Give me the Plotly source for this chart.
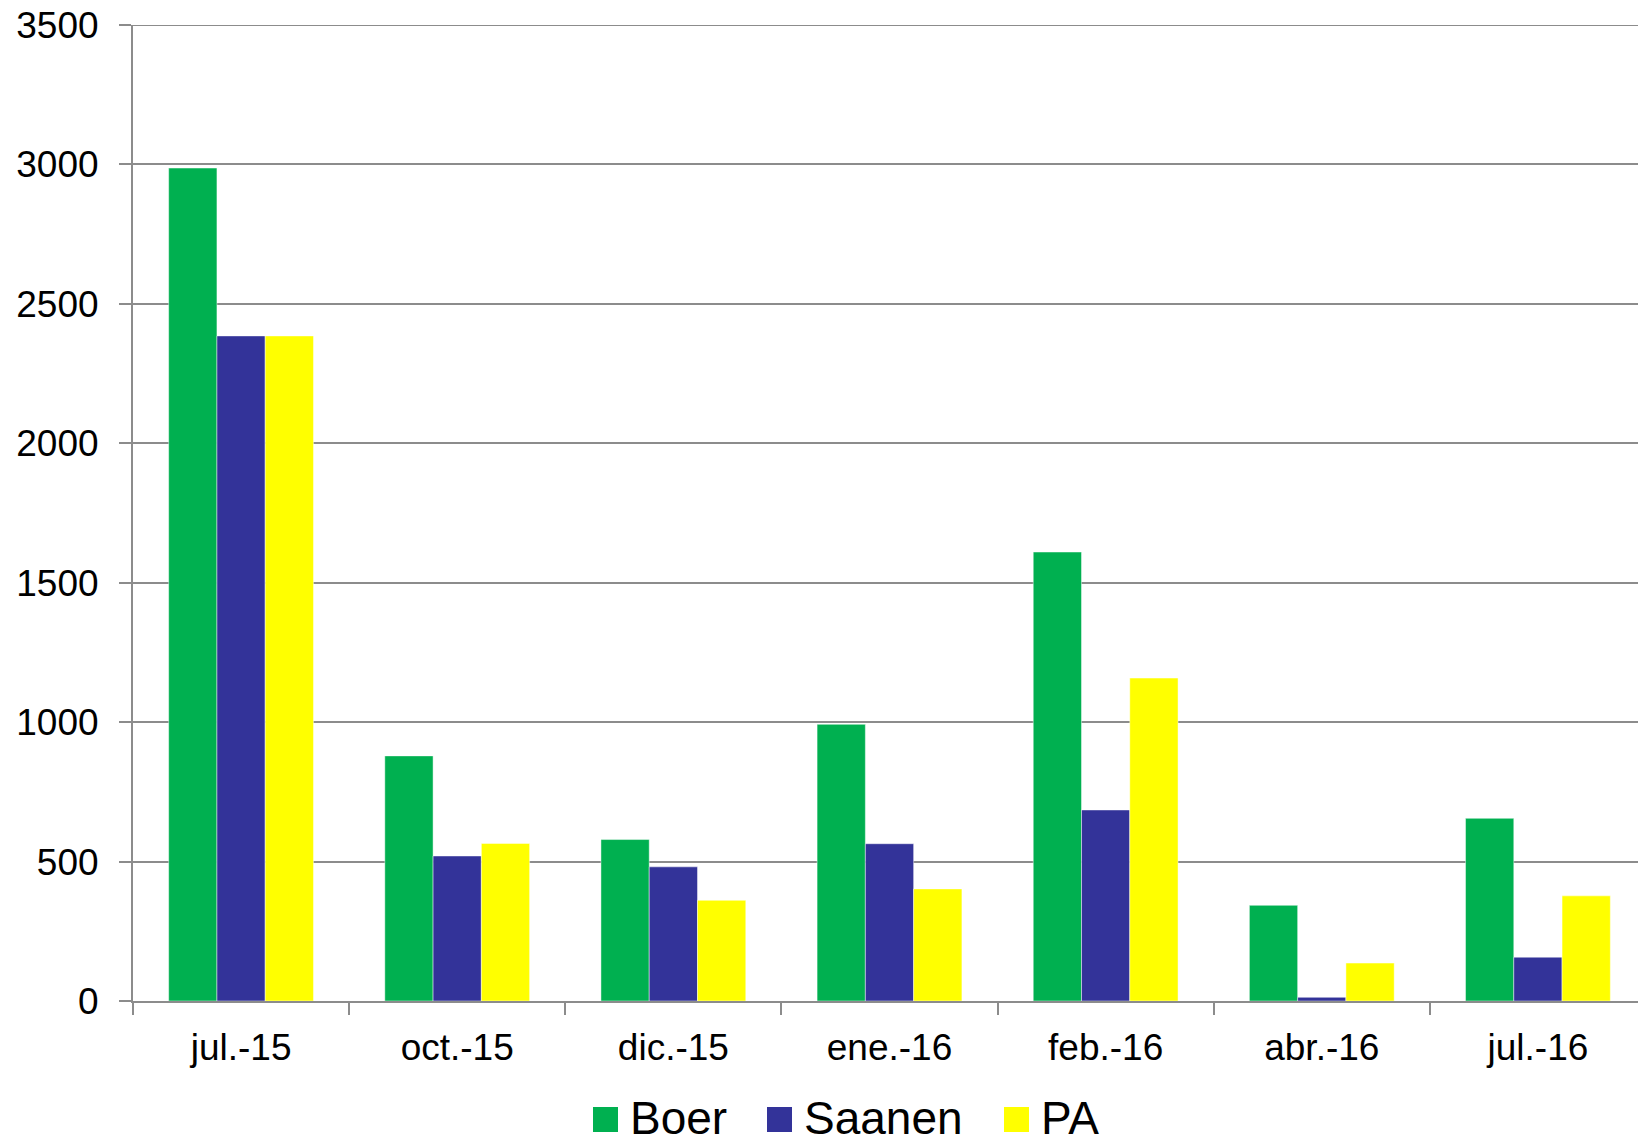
import plotly.graph_objects as go

# fechas (categorías del eje x)
fechas = ["jul.-15", "oct.-15", "dic.-15", "ene.-16", "feb.-16", "abr.-16", "jul.-16"]

# valores
boer = [2987, 879, 579, 992, 1610, 343, 655]
saanen = [2385, 520, 481, 564, 685, 13, 157]
pa = [2385, 565, 361, 402, 1158, 136, 377]

nombres = ["Boer", "Saanen", "PA"]
colores = ["#00B050", "#333399", "#FFFF00"]
valores = [boer, saanen, pa]

# la página deja 8px de margen en el body: se compensa aquí
OFF = 8
W, H = 1646 - OFF, 1143 - OFF
L, R, T, B = 133 - OFF, 0, 25 - OFF, 142
pw, ph = W - L - R, H - T - B
GRIS = "#8C8C8C"


def px_x(x):
    # x en píxeles de la página -> coordenada "paper"
    return (x - OFF - L) / pw


def px_y(y):
    return (H - B - (y - OFF)) / ph


fig = go.Figure()
for nombre, serie, color in zip(nombres, valores, colores):
    fig.add_trace(go.Bar(
        x=fechas,
        y=serie,
        name=nombre,
        marker=dict(color=color, line=dict(color="rgba(255,255,255,0.45)", width=1)),
        showlegend=False,
    ))

# plotly no dibuja la rejilla justo en el borde superior: se añade a mano
shapes = [dict(
    type="line", xref="paper", yref="y",
    x0=0, x1=1, y0=3500, y1=3500,
    line=dict(color=GRIS, width=2), layer="below",
)]
annotations = []

# leyenda dibujada a mano (cuadros grandes como en el original)
x_cuadros = [593, 767, 1004]
for nombre, color, x0 in zip(nombres, colores, x_cuadros):
    shapes.append(dict(
        type="rect", xref="paper", yref="paper",
        x0=px_x(x0), x1=px_x(x0 + 25),
        y0=px_y(1132), y1=px_y(1107),
        fillcolor=color, line=dict(width=0),
    ))
    annotations.append(dict(
        text=nombre, xref="paper", yref="paper",
        x=px_x(x0 + 35), y=px_y(1118),
        xanchor="left", yanchor="middle",
        showarrow=False, font=dict(size=46, color="black"),
    ))

fig.update_layout(
    width=W,
    height=H,
    barmode="group",
    bargap=0.33,
    bargroupgap=0,
    paper_bgcolor="white",
    plot_bgcolor="white",
    font=dict(family="Liberation Sans, Arial, sans-serif", color="black"),
    margin=dict(l=L, r=R, t=T, b=B, autoexpand=False),
    showlegend=False,
    shapes=shapes,
    annotations=annotations,
)
fig.update_xaxes(
    tickson="boundaries",
    ticks="outside",
    ticklen=12,
    tickwidth=2,
    tickcolor=GRIS,
    showline=True,
    linecolor=GRIS,
    linewidth=2,
    tickfont=dict(size=37),
    showgrid=False,
    automargin=False,
    ticklabelstandoff=13,
)
fig.update_yaxes(
    range=[0, 3500],
    dtick=500,
    ticks="outside",
    ticklen=12,
    tickwidth=2,
    tickcolor=GRIS,
    showline=True,
    linecolor=GRIS,
    linewidth=2,
    gridcolor=GRIS,
    gridwidth=2,
    zeroline=False,
    tickfont=dict(size=37),
    ticklabelstandoff=13,
    ticklabeloverflow="allow",
    automargin=False,
)

fig.write_html("out.html")
